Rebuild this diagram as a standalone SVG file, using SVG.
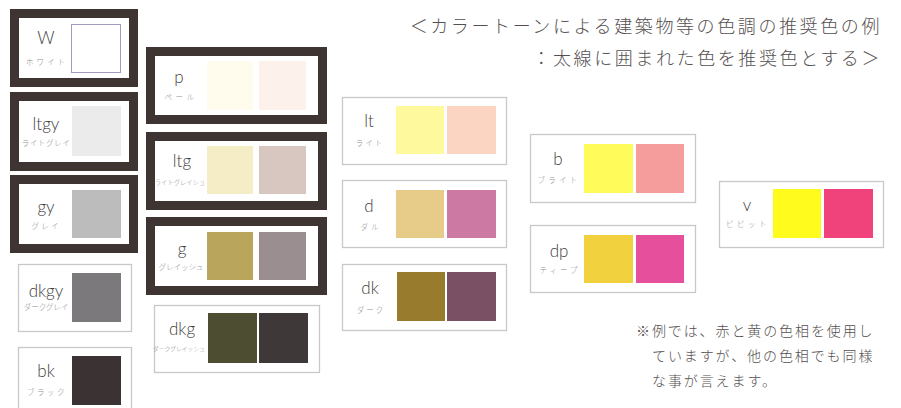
<svg xmlns="http://www.w3.org/2000/svg" width="901" height="408" viewBox="0 0 901 408">
<style>
.thick{fill:#fff;stroke:#3e3532;stroke-width:9}
.thin{fill:#fff;stroke:#cbc7c6;stroke-width:1.3}
.lab{font-family:Lato,"Open Sans","Liberation Sans",sans-serif;font-weight:300;font-size:17px;fill:#423d3d;text-anchor:middle}
.kana{font-family:"Noto Sans CJK JP",sans-serif;font-weight:300;font-size:7.5px;fill:#948e8e;text-anchor:middle}
.title{font-family:"Noto Sans CJK JP",sans-serif;font-weight:300;font-size:18px;fill:#555050;letter-spacing:2.6px;text-anchor:end}
.note{font-family:"Noto Sans CJK JP",sans-serif;font-weight:300;font-size:14px;fill:#555050;letter-spacing:1.9px}
</style>
<rect width="901" height="408" fill="#fff"/>
<g id="title">
<text class="title" x="882" y="33">＜カラートーンによる建築物等の色調の推奨色の例</text>
<text class="title" x="882" y="65">：太線に囲まれた色を推奨色とする＞</text>
</g>
<g id="node-W">
<rect class="thick" x="14.5" y="13.5" width="119" height="69"/>
<rect x="71.5" y="24.5" width="49" height="48" fill="#fff" stroke="#a39ac4" stroke-width="1"/>
<text class="lab" x="46" y="44">W</text><text class="kana" x="47" y="65" style="letter-spacing:3px">ホワイト</text>
</g>
<g id="node-ltgy">
<rect class="thick" x="14.5" y="96.5" width="119" height="70"/>
<rect x="72" y="106" width="49" height="50" fill="#ebebeb"/>
<text class="lab" x="46" y="130">ltgy</text><text class="kana" x="46" y="146" style="letter-spacing:0.6px">ライトグレイ</text>
</g>
<g id="node-gy">
<rect class="thick" x="14.5" y="179.5" width="119" height="69"/>
<rect x="72" y="190" width="49" height="48" fill="#bcbcbc"/>
<text class="lab" x="46" y="213">gy</text><text class="kana" x="46" y="229" style="letter-spacing:2.2px">グレイ</text>
</g>
<g id="node-dkgy">
<rect class="thin" x="18.5" y="264.5" width="113" height="67"/>
<rect x="72" y="273" width="49" height="49" fill="#7b797b"/>
<text class="lab" x="46" y="297">dkgy</text><text class="kana" x="46" y="310">ダークグレイ</text>
</g>
<g id="node-bk">
<rect class="thin" x="18.5" y="347.5" width="113" height="67"/>
<rect x="72" y="356" width="49" height="49" fill="#3b3333"/>
<text class="lab" x="46" y="377">bk</text><text class="kana" x="47" y="395" style="letter-spacing:2.5px">ブラック</text>
</g>
<g id="node-p">
<rect class="thick" x="150.5" y="51.5" width="172" height="68"/>
<rect x="207" y="61" width="46" height="49" fill="#fffcee"/>
<rect x="259" y="61" width="47" height="49" fill="#fdf1eb"/>
<text class="lab" x="179" y="83">p</text><text class="kana" x="181" y="100" style="letter-spacing:3.5px">ペール</text>
</g>
<g id="node-ltg">
<rect class="thick" x="150.5" y="136.5" width="172" height="69"/>
<rect x="207" y="146" width="46" height="48" fill="#f4edc6"/>
<rect x="259" y="146" width="47" height="48" fill="#d8c7c0"/>
<text class="lab" x="182" y="167">ltg</text><text class="kana" x="180" y="185" style="font-size:6.3px">ライトグレイシュ</text>
</g>
<g id="node-g">
<rect class="thick" x="150.5" y="221.5" width="172" height="69"/>
<rect x="207" y="232" width="46" height="48" fill="#b9a55c"/>
<rect x="259" y="232" width="47" height="48" fill="#9a8e91"/>
<text class="lab" x="182" y="255">g</text><text class="kana" x="181" y="270">グレイッシュ</text>
</g>
<g id="node-dkg">
<rect class="thin" x="154.5" y="305.5" width="165" height="67"/>
<rect x="208" y="313" width="49" height="50" fill="#4d4e31"/>
<rect x="259" y="313" width="49" height="50" fill="#3f3839"/>
<text class="lab" x="182" y="335">dkg</text><text class="kana" x="179" y="351" style="font-size:5.8px">ダークグレイッシュ</text>
</g>
<g id="node-lt">
<rect class="thin" x="342.5" y="97.5" width="164" height="67"/>
<rect x="396" y="106" width="48" height="48" fill="#fdf99c"/>
<rect x="447" y="106" width="49" height="48" fill="#fbd4c2"/>
<text class="lab" x="369" y="127">lt</text><text class="kana" x="370" y="146" style="letter-spacing:2px">ライト</text>
</g>
<g id="node-d">
<rect class="thin" x="342.5" y="180.5" width="164" height="67"/>
<rect x="396" y="190" width="48" height="48" fill="#e6cc88"/>
<rect x="447" y="190" width="49" height="48" fill="#cc7aa3"/>
<text class="lab" x="369" y="212">d</text><text class="kana" x="371" y="230" style="letter-spacing:3px">ダル</text>
</g>
<g id="node-dk">
<rect class="thin" x="342.5" y="264.5" width="164" height="66"/>
<rect x="397" y="272" width="48" height="49" fill="#987b2d"/>
<rect x="447" y="272" width="49" height="49" fill="#7a5064"/>
<text class="lab" x="370" y="294">dk</text><text class="kana" x="371" y="313" style="letter-spacing:2px">ダーク</text>
</g>
<g id="node-b">
<rect class="thin" x="530.5" y="134.5" width="165" height="68"/>
<rect x="584" y="144" width="49" height="49" fill="#fefb5a"/>
<rect x="636" y="144" width="48" height="49" fill="#f49d9c"/>
<text class="lab" x="558" y="165">b</text><text class="kana" x="559" y="183" style="letter-spacing:3.2px">ブライト</text>
</g>
<g id="node-dp">
<rect class="thin" x="530.5" y="225.5" width="165" height="67"/>
<rect x="584" y="235" width="49" height="48" fill="#f2d13f"/>
<rect x="636" y="235" width="48" height="48" fill="#e64f9b"/>
<text class="lab" x="559" y="257">dp</text><text class="kana" x="560" y="273" style="letter-spacing:3px">ティープ</text>
</g>
<g id="node-v">
<rect class="thin" x="719.5" y="181.5" width="164" height="66"/>
<rect x="773" y="189" width="48" height="49" fill="#fffb1c"/>
<rect x="824" y="189" width="49" height="49" fill="#f0437b"/>
<text class="lab" x="747" y="211">v</text><text class="kana" x="748" y="227" style="letter-spacing:3.5px">ビビット</text>
</g>
<g id="note">
<text class="note" x="636" y="336">※例では、赤と黄の色相を使用し</text>
<text class="note" x="652" y="361">ていますが、他の色相でも同様</text>
<text class="note" x="652" y="386">な事が言えます。</text>
</g>
</svg>
